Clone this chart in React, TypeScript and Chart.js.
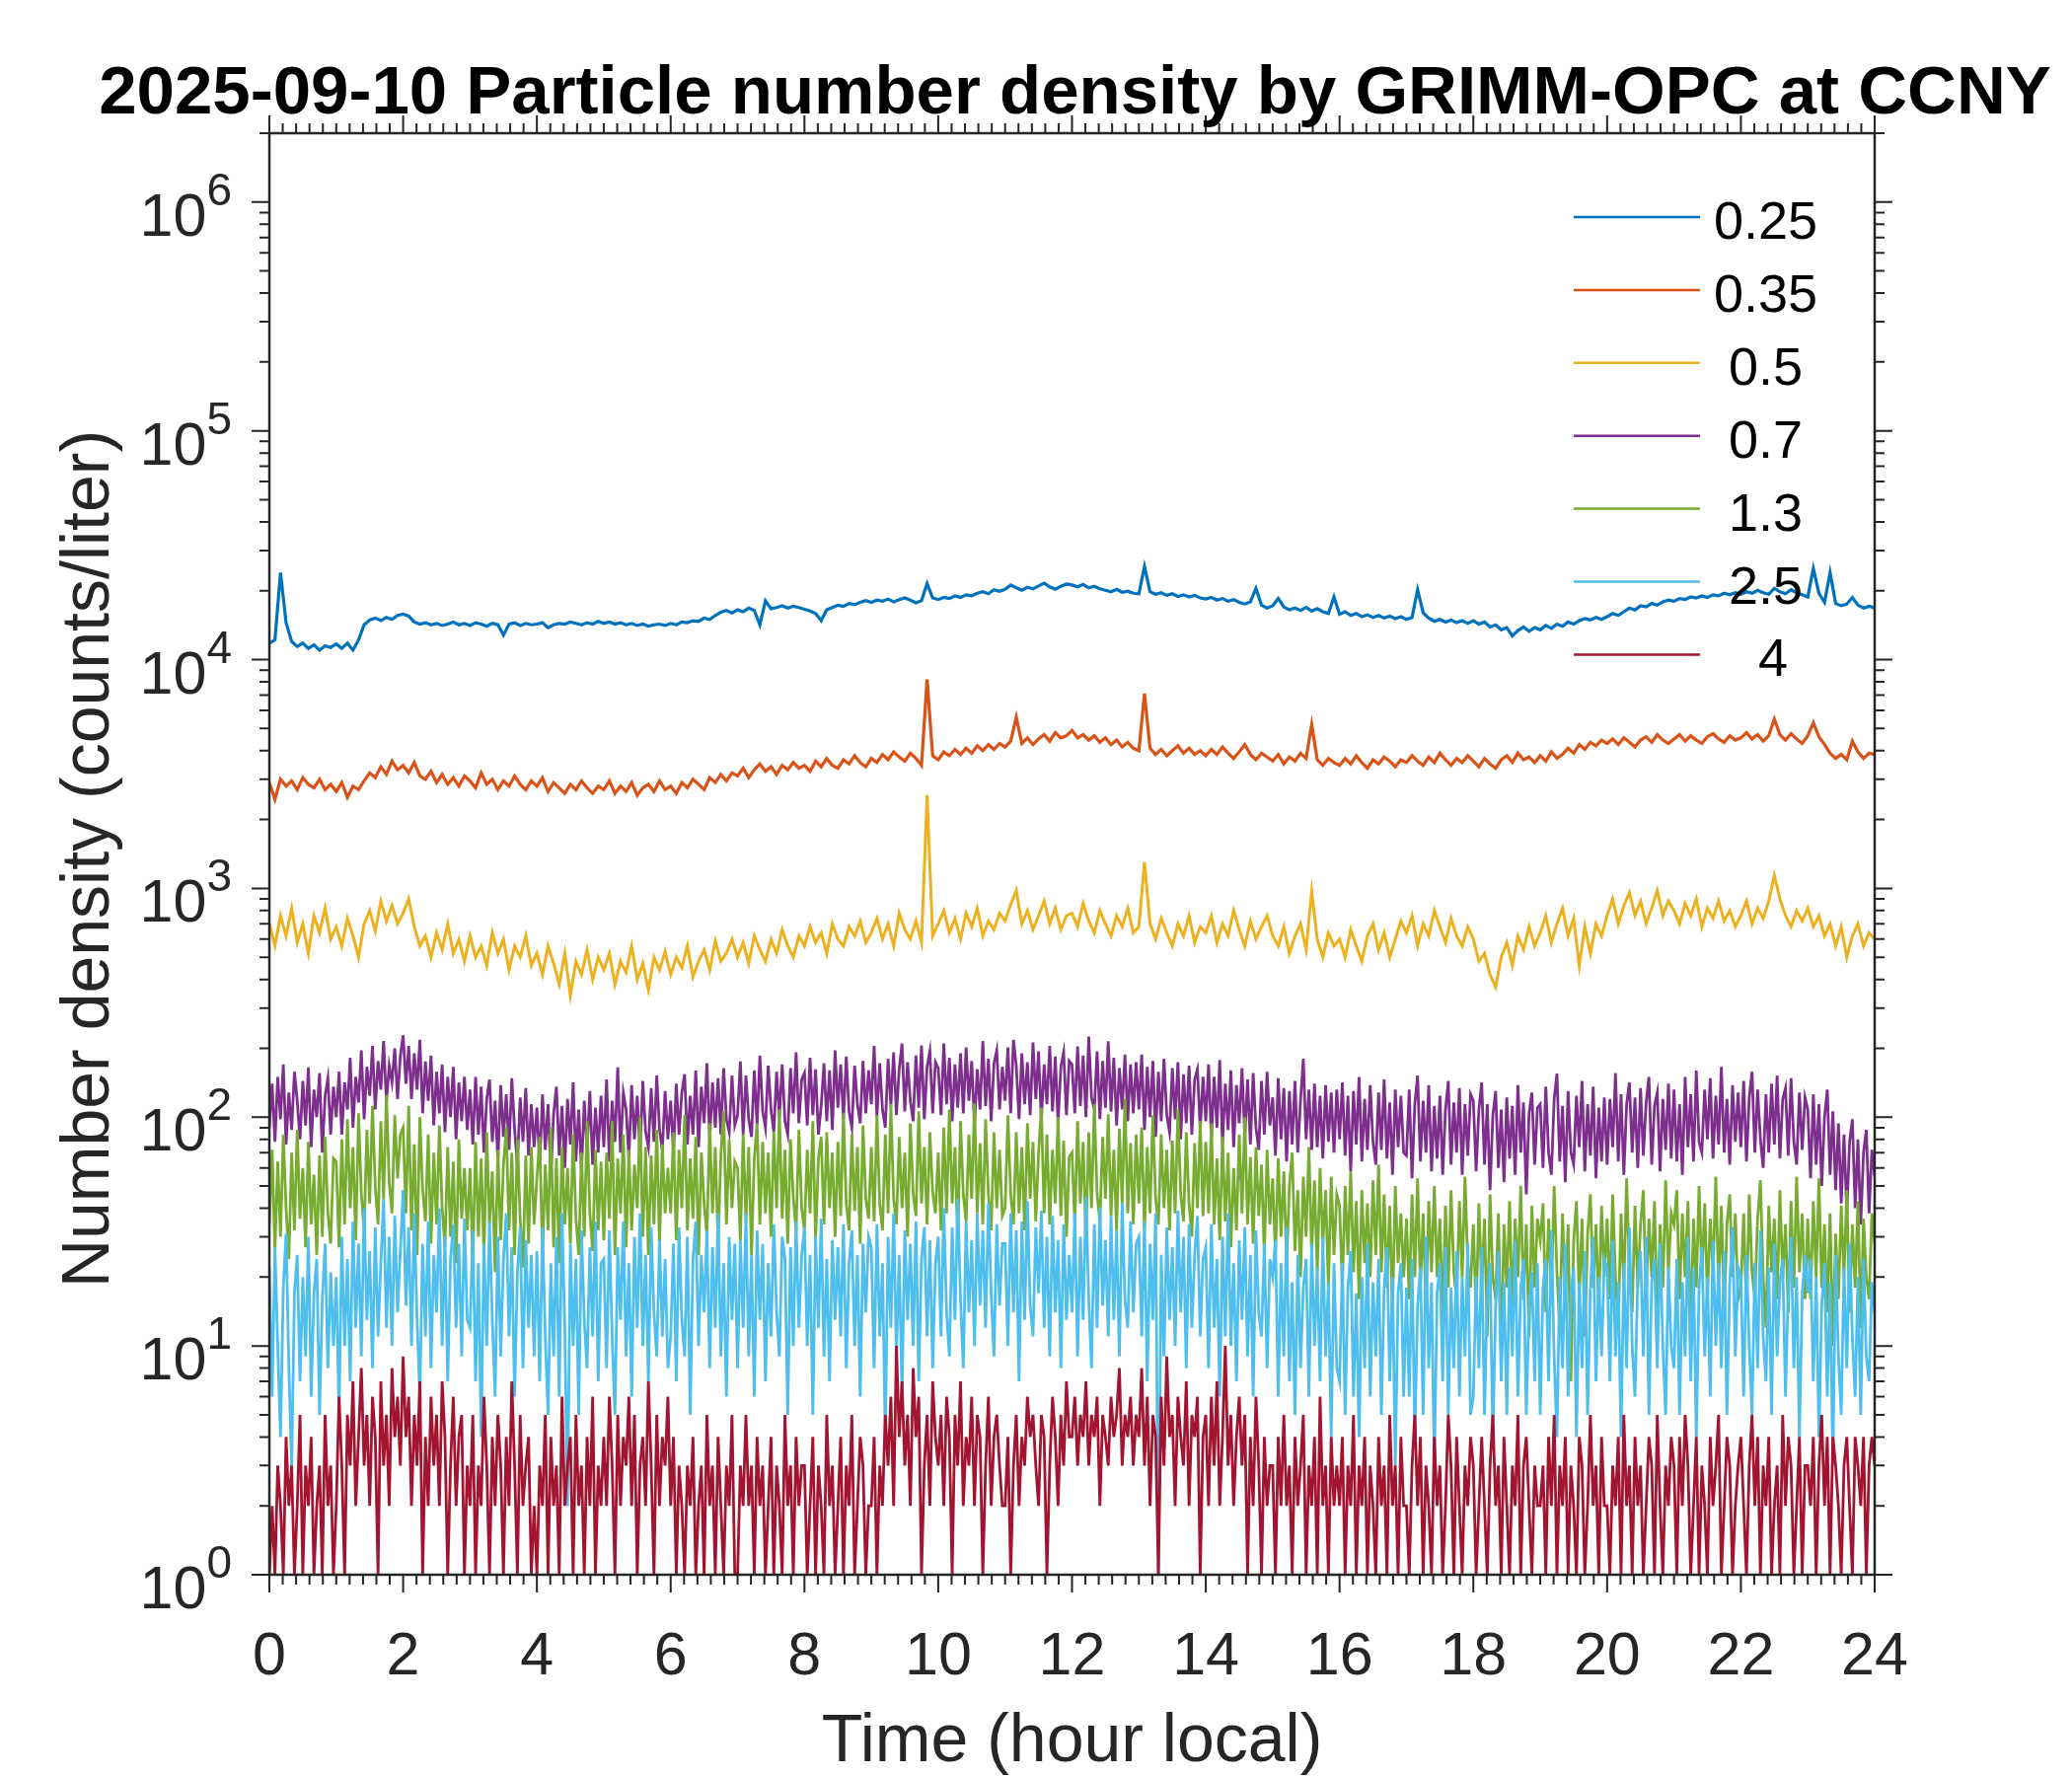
import React, { useEffect, useRef } from "react";
import { Chart, registerables } from "chart.js";

Chart.register(...registerables);

const TITLE = "2025-09-10 Particle number density by GRIMM-OPC at CCNY";
const X_LABEL = "Time (hour local)";
const Y_LABEL = "Number density (counts/liter)";
const SIZE_LABELS = ["0.25", "0.35", " 0.5", " 0.7", " 1.3", " 2.5", "   4"];
const COLORS = ["#0072BD", "#D95319", "#EDB120", "#7E2F8E", "#77AC30", "#4DBEEE", "#A2142F"];
const LINE_WIDTHS = [3.2, 3.2, 3, 2.8, 2.8, 2.8, 2.8];
const X_TICKS = [0, 2, 4, 6, 8, 10, 12, 14, 16, 18, 20, 22, 24];
const X_MINOR_STEP = 0.2;
const Y_EXPONENTS = [0, 1, 2, 3, 4, 5, 6];
const Y_MIN = 1;
const Y_MAX = 2e6;
// sampling interval of each channel's array, in minutes
const SAMPLE_MINUTES = [5, 5, 5, 2.5, 2.5, 2.5, 2.5];

// 0.25 um channel (5-min samples)
const N_025 = [
  11800, 12200, 24000, 14500, 12000, 11400, 11800, 11200, 11600, 11000, 11500, 11300,
  11700, 11200, 11800, 11000, 12200, 14200, 14900, 15200, 14800, 15300, 15000, 15600,
  15800, 15500, 14600, 14300, 14500, 14200, 14400, 14100, 14300, 14600, 14200, 14400,
  14100, 14500, 14300, 14000, 14400, 14200, 12800, 14300, 14500, 14100, 14400, 14200,
  14300, 14500, 13800, 14200, 14400, 14300, 14600, 14400, 14200, 14500, 14300, 14700,
  14400, 14600, 14300, 14500, 14200, 14400, 14100, 14300, 14000, 14200, 14300, 14100,
  14400, 14200, 14600, 14500, 14800, 14700, 15200, 15000, 15600, 16100, 16400, 16000,
  16500, 16200, 16800, 16400, 14200, 18100, 16700, 16900, 17200, 16800, 17100, 16900,
  16600, 16300, 15900, 14800, 16500, 16900, 17300, 17100, 17600, 17400, 17800, 18100,
  17800, 18200, 18000, 18400, 17900, 18300, 18600, 18200, 17700, 18100, 21500, 18600,
  18300, 18700, 18500, 19000, 18700, 19200, 19000, 19500, 19800, 19400, 20200, 19900,
  20300, 21200, 20600, 20100, 20700, 20400, 21000, 21600, 20800, 20300, 20900, 21400,
  21200, 20800, 21300, 20600, 20900, 20400, 20100, 19800, 20300, 19700, 19900, 19500,
  19400, 25500, 19800, 19300, 19600, 19100, 19400, 18900, 19200, 18800, 19100, 18600,
  18400, 18700, 18200, 18500, 18000, 18300, 17800, 17500, 17900, 20500, 17300, 16800,
  17200, 18500, 17000, 16500, 16800, 16400, 16900, 16300, 16700, 16200, 15900, 18800,
  15800, 16200, 15600, 15900, 15400, 15700, 15300, 15600, 15200, 15500, 15100, 15400,
  15000, 15300, 20200, 16000, 15200, 14700, 15000, 14600, 14900, 14500, 14800, 14400,
  14800, 14300, 14600, 13900, 14200, 13500, 13800, 12700, 13400, 13900, 13300, 13800,
  13500, 14100, 13700, 14300, 14000, 14600, 14300, 14800, 15100, 14900, 15300, 15000,
  15400, 15900, 15600, 16200, 16800, 16500, 17200, 17000, 17600, 17300, 17900, 18200,
  18000, 18500, 18300, 18800, 18600, 19000, 18700, 19200, 19000, 19500, 19200, 19600,
  19300, 19800, 19500, 20100, 19600, 19300, 20500, 19800, 19400, 20200, 19600, 19200,
  18800, 25000, 19500, 17800, 24000, 17600, 17200, 17500, 18700, 17300, 16800, 17100,
  16800,
];

// 0.35 um channel (5-min samples)
const N_035 = [
  2900, 2450, 3000, 2800, 2950, 2700, 3050, 2850, 2750, 3000, 2700, 2850,
  2650, 2900, 2500, 2800, 2700, 2950, 3200, 3050, 3400, 3150, 3600, 3300,
  3450, 3200, 3550, 3100, 3000, 3250, 2900, 3150, 2850, 3050, 2800, 3100,
  2950, 2750, 3200, 2850, 3000, 2700, 2950, 2800, 3100, 2850, 2700, 2950,
  2800, 3050, 2650, 2900, 2750, 2600, 2850, 2700, 2950, 2750, 2600, 2800,
  2700, 2950, 2600, 2800, 2650, 2900, 2550, 2750, 2850, 2650, 2950, 2700,
  2800, 2600, 2900, 2750, 3000, 2850, 2700, 3050, 2900, 3150, 2950, 3200,
  3100, 3350, 3050, 3300, 3500, 3250, 3400, 3150, 3450, 3300, 3550, 3350,
  3450, 3250, 3600, 3400, 3700, 3450, 3350, 3650, 3500, 3800, 3550, 3400,
  3700, 3550, 3850, 3650, 3950, 3750, 3600, 3900, 3700, 3450, 8200, 3800,
  3650, 3950, 3800, 4050, 3850, 4100, 3900, 4200, 4000, 4250, 4050, 4300,
  4150, 4400, 5600, 4300, 4550, 4250, 4500, 4700, 4400, 4800, 4550, 4650,
  4900, 4550, 4700, 4450, 4650, 4350, 4550, 4250, 4450, 4150, 4350, 4100,
  4000, 7100, 4100, 3850, 4050, 3800, 4000, 4200, 3900, 4100, 3850, 4000,
  3800, 4050, 3850, 4150, 3900, 3700, 3950, 4250, 3850, 3650, 3900, 3750,
  3600, 3850, 3500, 3750, 3600, 3900, 3700, 5200, 3650, 3450, 3700, 3550,
  3450, 3700, 3500, 3800, 3550, 3350, 3650, 3500, 3750, 3600, 3400, 3650,
  3550, 3800, 3600, 3450, 3750, 3550, 3900, 3650, 3450, 3700, 3550, 3800,
  3600, 3400, 3700, 3500, 3350, 3650, 3800, 3550, 3900, 3650, 3750, 3550,
  3800, 3600, 3950, 3700, 3850, 4100, 3900, 4250, 4050, 4350, 4200, 4450,
  4300, 4500, 4250, 4550, 4350, 4150, 4450, 4600, 4350, 4700, 4450, 4300,
  4500, 4700, 4400, 4650, 4450, 4300, 4600, 4750, 4500, 4350, 4650, 4450,
  4550, 4800, 4500, 4700, 4400, 4650, 5500, 4700, 4450, 4750, 4500, 4300,
  4650, 5300, 4600, 4250, 3900, 3700, 3850, 3650, 4400, 3950, 3700, 3900,
  3850,
];

// 0.5 um channel (5-min samples)
const N_05 = [
  700, 560, 760, 620, 820, 580, 700, 520, 760, 640, 820, 600,
  680, 560, 740, 620, 500, 700, 800, 650, 880, 720, 840, 700,
  780, 900, 680, 560, 620, 500, 640, 540, 700, 520, 600, 480,
  620, 500, 560, 460, 640, 520, 600, 440, 560, 500, 620, 460,
  520, 420, 560, 470, 380, 520, 340, 480, 420, 540, 400, 500,
  440, 520, 380, 480, 430, 560, 400, 470, 360, 500, 440, 530,
  420, 500, 450, 560, 410, 480, 540, 440, 590, 480, 520, 600,
  500, 580, 470, 620, 540, 480, 600, 520, 660, 560, 500, 620,
  560, 680, 580, 640, 520, 700, 600, 560, 680, 620, 720, 580,
  640, 740, 600, 700, 560, 780, 660, 600, 720, 580, 2560, 620,
  700, 800, 640, 740, 600, 780, 680, 820, 620, 720, 660, 780,
  720, 850, 980, 700, 800, 660, 760, 880, 700, 820, 660, 760,
  780, 680, 860, 720, 640, 800, 700, 620, 760, 680, 820, 640,
  680, 1300, 700, 600, 740, 640, 560, 700, 620, 760, 580, 680,
  640, 760, 580, 700, 620, 800, 660, 560, 720, 600, 680, 760,
  620, 560, 680, 520, 620, 700, 540, 970, 600, 500, 640, 560,
  600, 500, 660, 560, 480, 620, 700, 540, 640, 500, 600, 720,
  640, 760, 560, 700, 620, 800, 680, 580, 740, 620, 560, 680,
  600, 480, 520, 420, 370, 500, 580, 460, 620, 540, 680, 560,
  640, 760, 580, 700, 820, 620, 740, 460, 680, 520, 700, 620,
  760, 900, 700, 840, 960, 760, 880, 700, 820, 980, 760, 880,
  800, 700, 860, 760, 900, 680, 820, 740, 880, 720, 800, 680,
  760, 880, 700, 820, 740, 880, 1140, 900, 760, 680, 800, 720,
  820, 680, 760, 620, 700, 560, 680, 500, 620, 700, 560, 640,
  600,
];

// 0.7 um channel (2.5-min samples)
const N_07 = [
  90, 140, 78, 150, 98, 170, 76, 128, 88, 158, 118, 80, 144, 92, 165, 74, 132, 100, 156, 70, 124, 148, 84, 136,
  100, 158, 84, 142, 108, 182, 90, 150, 116, 196, 98, 166, 124, 205, 108, 176, 132, 215, 116, 168, 142, 200, 120, 185,
  228, 140, 205, 120, 190, 132, 218, 104, 175, 118, 186, 92, 158, 104, 170, 86, 150, 100, 166, 80, 142, 96, 150, 88,
  132, 76, 150, 84, 136, 70, 120, 146, 78, 118, 64, 138, 82, 126, 72, 148, 88, 62, 122, 78, 134, 68, 114, 74,
  110, 62, 126, 72, 114, 56, 104, 136, 68, 112, 60, 120, 76, 142, 64, 108, 58, 118, 72, 130, 62, 110, 70, 124,
  74, 146, 64, 118, 78, 165, 70, 128, 108, 66, 138, 80, 124, 70, 144, 86, 74, 134, 78, 152, 88, 72, 130, 80,
  118, 70, 140, 84, 128, 154, 76, 124, 84, 160, 74, 136, 94, 172, 80, 142, 90, 148, 84, 164, 98, 86, 152, 92,
  102, 175, 84, 152, 98, 82, 160, 92, 186, 106, 90, 168, 108, 86, 158, 100, 170, 96, 84, 164, 104, 192, 94, 146,
  156, 92, 182, 102, 162, 84, 112, 172, 96, 160, 88, 196, 110, 170, 98, 184, 106, 90, 168, 114, 94, 176, 104, 160,
  114, 205, 100, 172, 108, 90, 180, 112, 192, 102, 162, 210, 106, 174, 118, 96, 186, 110, 206, 98, 166, 194, 104, 174,
  164, 102, 210, 114, 182, 96, 170, 110, 190, 104, 202, 118, 176, 92, 162, 108, 215, 112, 180, 96, 172, 196, 108, 166,
  118, 202, 104, 218, 168, 98, 190, 114, 174, 102, 212, 120, 194, 96, 170, 114, 205, 106, 184, 94, 166, 192, 102, 176,
  170, 104, 204, 112, 186, 100, 225, 122, 108, 194, 98, 176, 110, 215, 106, 182, 92, 164, 108, 188, 96, 170, 104, 174,
  108, 188, 88, 166, 100, 176, 82, 158, 96, 180, 102, 86, 164, 98, 174, 80, 154, 94, 168, 84, 146, 162, 88, 150,
  96, 170, 80, 150, 90, 178, 76, 140, 88, 160, 74, 138, 94, 164, 82, 146, 76, 156, 90, 72, 144, 84, 158, 92,
  122, 68, 148, 80, 134, 64, 130, 76, 144, 70, 118, 180, 80, 132, 72, 140, 74, 124, 66, 138, 78, 128, 70, 132,
  80, 142, 68, 124, 58, 130, 76, 150, 64, 120, 72, 138, 78, 62, 128, 72, 146, 66, 116, 56, 132, 74, 124, 70,
  68, 132, 54, 114, 152, 64, 118, 70, 138, 58, 112, 66, 124, 56, 108, 144, 62, 116, 70, 134, 56, 114, 68, 126,
  118, 58, 108, 142, 62, 114, 48, 102, 130, 60, 108, 52, 122, 66, 112, 56, 138, 70, 116, 46, 104, 128, 62, 110,
  114, 60, 136, 70, 56, 120, 155, 64, 112, 52, 130, 70, 62, 124, 74, 144, 58, 114, 68, 136, 54, 110, 64, 122,
  62, 120, 74, 156, 64, 126, 56, 114, 142, 70, 122, 60, 134, 68, 116, 150, 62, 112, 128, 58, 120, 72, 140, 66,
  132, 64, 114, 56, 150, 74, 126, 64, 160, 78, 70, 132, 80, 148, 66, 124, 76, 166, 70, 120, 62, 138, 78, 128,
  74, 144, 64, 122, 158, 70, 132, 80, 60, 126, 70, 140, 76, 152, 66, 120, 134, 68, 148, 78, 62, 128, 72, 122,
  108, 54, 126, 62, 114, 50, 100, 132, 56, 106, 48, 94, 42, 84, 38, 78, 98, 40, 80, 34, 70, 88, 38, 72,
  55,
];

// 1.3 um channel (2.5-min samples)
const N_13 = [
  34, 72, 26, 64, 30, 84, 40, 24, 70, 32, 88, 36, 60, 27, 78, 34, 56, 25, 68, 30, 82, 38, 28, 66,
  64, 27, 80, 34, 98, 40, 74, 29, 104, 46, 32, 88, 42, 112, 50, 34, 96, 44, 125, 52, 38, 102, 54, 84,
  90, 38, 112, 32, 76, 25, 100, 48, 35, 84, 28, 70, 34, 92, 40, 27, 74, 30, 64, 23, 80, 36, 60, 32,
  60, 23, 78, 30, 66, 25, 86, 34, 58, 21, 72, 29, 62, 90, 32, 70, 25, 80, 36, 22, 68, 28, 74, 34,
  54, 82, 25, 62, 32, 90, 27, 66, 23, 74, 34, 60, 28, 84, 36, 25, 70, 30, 96, 38, 26, 72, 32, 64,
  29, 70, 36, 96, 25, 66, 38, 84, 27, 72, 32, 62, 40, 100, 30, 74, 25, 68, 34, 88, 28, 76, 38, 60,
  38, 86, 29, 72, 40, 102, 32, 66, 36, 82, 25, 70, 42, 30, 94, 38, 74, 28, 68, 106, 34, 80, 40, 64,
  60, 29, 84, 35, 74, 25, 66, 94, 34, 78, 38, 70, 30, 86, 40, 108, 36, 72, 28, 80, 44, 32, 88, 40,
  32, 72, 38, 96, 29, 66, 82, 34, 86, 40, 70, 30, 78, 37, 104, 42, 32, 84, 39, 74, 28, 92, 44, 36,
  74, 35, 102, 42, 32, 84, 38, 114, 44, 34, 82, 40, 70, 30, 94, 46, 37, 106, 42, 74, 34, 86, 47, 38,
  70, 32, 90, 38, 108, 42, 74, 29, 96, 46, 35, 84, 44, 115, 38, 77, 34, 98, 46, 32, 86, 40, 72, 37,
  40, 102, 46, 34, 86, 38, 74, 32, 94, 44, 78, 35, 70, 110, 38, 84, 34, 72, 42, 100, 37, 79, 30, 67,
  70, 34, 96, 42, 78, 29, 86, 40, 114, 46, 35, 82, 44, 103, 37, 72, 32, 89, 42, 120, 38, 77, 34, 84,
  42, 90, 32, 74, 38, 102, 44, 34, 84, 40, 72, 32, 79, 38, 108, 46, 35, 86, 42, 30, 77, 40, 96, 37,
  78, 38, 94, 34, 66, 29, 82, 35, 70, 27, 60, 32, 84, 38, 100, 34, 67, 28, 74, 37, 62, 25, 72, 34,
  54, 25, 66, 30, 58, 23, 50, 70, 26, 48, 20, 55, 30, 74, 25, 53, 21, 60, 28, 48, 18, 55, 25, 46,
  41, 18, 50, 25, 58, 21, 43, 16, 48, 23, 42, 20, 53, 25, 62, 21, 46, 18, 41, 14, 50, 23, 38, 20,
  36, 16, 46, 20, 54, 18, 38, 14, 43, 21, 50, 20, 36, 13, 41, 18, 48, 21, 16, 43, 20, 55, 23, 18,
  34, 14, 42, 18, 36, 11, 46, 20, 16, 38, 9, 34, 18, 43, 14, 36, 20, 50, 16, 34, 11, 41, 18, 36,
  29, 42, 14, 36, 18, 50, 21, 12, 38, 16, 34, 7, 29, 43, 16, 36, 11, 31, 46, 18, 34, 14, 41, 20,
  36, 16, 46, 20, 12, 38, 18, 54, 21, 14, 41, 18, 34, 48, 16, 36, 20, 43, 12, 34, 18, 53, 21, 38,
  34, 48, 16, 38, 20, 43, 11, 36, 18, 50, 20, 42, 16, 36, 21, 55, 18, 41, 14, 34, 46, 20, 38, 16,
  18, 38, 14, 46, 21, 16, 36, 53, 20, 12, 41, 21, 36, 16, 48, 20, 34, 14, 43, 18, 55, 21, 38, 16,
  36, 16, 43, 20, 54, 18, 34, 14, 38, 10, 31, 16, 41, 20, 48, 14, 34, 18, 43, 12, 36, 20, 16, 38,
  28,
];

// 2.5 um channel (2.5-min samples)
const N_25 = [
  22, 6, 27, 10, 4, 18, 31, 8, 3, 17, 25, 7, 20, 9, 30, 6, 17, 24, 5, 16, 28, 8, 21, 10,
  20, 5, 30, 10, 24, 7, 35, 12, 28, 9, 40, 13, 26, 8, 33, 11, 23, 44, 12, 30, 10, 37, 14, 26,
  48, 15, 33, 10, 38, 13, 6, 28, 11, 35, 8, 25, 14, 40, 10, 30, 7, 24, 34, 12, 28, 9, 36, 13,
  12, 32, 7, 23, 4, 28, 10, 35, 13, 6, 30, 9, 24, 38, 11, 27, 6, 21, 33, 8, 29, 12, 25, 9,
  26, 7, 33, 11, 5, 23, 9, 30, 6, 38, 12, 2, 28, 10, 24, 5, 32, 13, 8, 27, 11, 35, 7, 23,
  24, 8, 32, 11, 5, 27, 13, 35, 9, 23, 6, 30, 12, 38, 10, 25, 7, 33, 14, 9, 29, 11, 24, 8,
  11, 28, 7, 33, 13, 9, 30, 5, 24, 35, 10, 25, 14, 32, 8, 27, 12, 38, 9, 23, 6, 30, 13, 28,
  8, 29, 12, 38, 9, 25, 6, 32, 13, 28, 7, 23, 11, 34, 14, 9, 30, 24, 5, 27, 10, 35, 12, 25,
  33, 10, 25, 5, 30, 12, 36, 9, 24, 7, 29, 13, 27, 11, 34, 8, 23, 32, 10, 25, 6, 28, 14, 30,
  27, 8, 34, 11, 23, 4, 30, 12, 38, 9, 25, 6, 32, 13, 28, 10, 35, 7, 24, 33, 11, 29, 8, 23,
  30, 11, 40, 14, 9, 33, 13, 44, 16, 8, 35, 14, 29, 10, 38, 15, 32, 12, 42, 17, 9, 34, 15, 28,
  28, 10, 38, 14, 32, 7, 35, 13, 43, 15, 11, 33, 17, 39, 12, 30, 9, 37, 14, 29, 8, 34, 13, 25,
  14, 38, 9, 30, 13, 45, 16, 8, 34, 12, 40, 15, 29, 11, 37, 13, 32, 9, 42, 16, 12, 35, 14, 28,
  30, 11, 35, 7, 28, 13, 38, 1, 25, 9, 33, 13, 27, 10, 39, 14, 30, 8, 34, 12, 25, 37, 11, 24,
  27, 8, 34, 12, 24, 6, 30, 11, 38, 10, 23, 7, 29, 13, 33, 9, 25, 6, 32, 14, 11, 28, 8, 24,
  20, 29, 6, 23, 9, 33, 7, 19, 5, 25, 8, 18, 24, 6, 28, 10, 22, 7, 30, 9, 19, 4, 23, 8,
  7, 23, 5, 18, 26, 6, 17, 4, 20, 8, 28, 6, 19, 9, 24, 5, 18, 27, 7, 20, 3, 17, 23, 6,
  18, 6, 24, 4, 15, 22, 5, 30, 8, 19, 3, 17, 23, 7, 27, 5, 18, 8, 26, 6, 20, 9, 28, 5,
  6, 20, 8, 27, 5, 17, 23, 4, 15, 26, 7, 19, 5, 22, 9, 29, 6, 18, 24, 5, 15, 21, 7, 23,
  5, 18, 24, 7, 32, 9, 4, 20, 8, 28, 6, 17, 22, 4, 19, 8, 26, 5, 18, 30, 7, 20, 9, 24,
  22, 7, 29, 9, 19, 4, 23, 8, 33, 10, 6, 20, 26, 9, 30, 5, 19, 24, 8, 28, 10, 5, 22, 10,
  8, 24, 5, 19, 9, 30, 7, 22, 4, 18, 27, 9, 20, 6, 29, 10, 23, 8, 26, 5, 19, 33, 9, 22,
  20, 6, 25, 10, 5, 23, 8, 32, 11, 7, 22, 5, 28, 9, 19, 24, 6, 18, 30, 8, 20, 4, 17, 25,
  17, 24, 7, 20, 4, 15, 23, 6, 19, 3, 25, 9, 5, 22, 8, 28, 11, 6, 20, 5, 24, 9, 7, 19,
  14,
];

// 4 um channel (2.5-min samples)
const N_4 = [
  1, 2, 1, 3, 2, 1, 4, 2, 3, 1, 2, 5, 1, 3, 2, 4, 1, 2, 3, 1, 5, 2, 3, 1,
  2, 6, 3, 1, 5, 3, 7, 2, 4, 8, 3, 5, 2, 6, 4, 1, 7, 3, 5, 2, 8, 4, 6, 3,
  9, 4, 6, 2, 5, 3, 7, 1, 4, 2, 6, 3, 5, 2, 7, 4, 1, 3, 6, 2, 4, 5, 1, 3,
  2, 5, 1, 3, 2, 6, 3, 1, 4, 2, 5, 3, 1, 4, 2, 7, 3, 1, 5, 2, 3, 4, 1, 2,
  1, 3, 2, 5, 1, 4, 2, 3, 1, 6, 2, 3, 4, 1, 5, 2, 3, 1, 4, 2, 6, 1, 3, 2,
  4, 2, 6, 3, 1, 5, 2, 4, 3, 6, 2, 5, 1, 3, 4, 2, 7, 3, 1, 5, 2, 4, 3, 6,
  2, 4, 1, 3, 2, 1, 3, 2, 4, 1, 2, 3, 1, 5, 2, 3, 1, 4, 2, 1, 3, 2, 5, 1,
  1, 3, 2, 5, 2, 3, 1, 4, 2, 3, 1, 2, 4, 1, 3, 2, 1, 5, 2, 3, 1, 4, 2, 3,
  3, 1, 2, 4, 1, 3, 2, 1, 5, 2, 3, 1, 2, 4, 1, 3, 2, 5, 1, 2, 4, 3, 1, 2,
  2, 4, 1, 3, 2, 5, 3, 6, 2, 10, 4, 7, 3, 5, 2, 8, 4, 6, 1, 3, 5, 2, 7, 4,
  3, 5, 2, 6, 4, 1, 5, 3, 7, 2, 4, 3, 6, 2, 5, 4, 1, 3, 6, 2, 4, 5, 3, 2,
  2, 4, 1, 3, 5, 2, 4, 3, 6, 4, 5, 3, 2, 5, 4, 1, 3, 6, 4, 2, 5, 3, 7, 4,
  4, 6, 3, 5, 4, 7, 3, 5, 4, 6, 2, 5, 4, 3, 6, 4, 5, 8, 3, 5, 4, 6, 3, 5,
  4, 8, 3, 6, 2, 5, 4, 1, 6, 3, 9, 4, 5, 2, 6, 4, 3, 7, 2, 5, 4, 6, 1, 4,
  5, 2, 6, 3, 7, 2, 4, 10, 3, 5, 2, 4, 6, 3, 5, 1, 4, 2, 6, 3, 1, 4, 2, 3,
  3, 1, 4, 2, 5, 2, 3, 1, 4, 2, 3, 5, 1, 3, 2, 4, 1, 6, 2, 3, 1, 4, 2, 3,
  2, 4, 1, 3, 2, 5, 1, 3, 2, 4, 1, 3, 2, 1, 4, 2, 3, 1, 5, 2, 3, 1, 4, 2,
  2, 1, 3, 5, 2, 4, 1, 3, 2, 1, 4, 2, 3, 1, 2, 5, 3, 1, 4, 2, 1, 3, 2, 4,
  3, 1, 2, 4, 2, 1, 3, 5, 2, 3, 1, 4, 2, 1, 3, 2, 5, 1, 3, 4, 2, 1, 3, 2,
  2, 3, 1, 4, 2, 5, 1, 3, 2, 4, 1, 3, 2, 1, 4, 3, 1, 2, 5, 2, 3, 1, 4, 2,
  2, 1, 3, 2, 4, 1, 5, 2, 3, 1, 4, 2, 3, 1, 2, 4, 3, 1, 5, 2, 1, 3, 2, 4,
  3, 1, 4, 2, 5, 3, 1, 2, 4, 1, 3, 2, 1, 4, 2, 3, 5, 1, 2, 4, 3, 1, 2, 3,
  4, 2, 1, 3, 5, 2, 4, 1, 3, 2, 4, 1, 2, 3, 1, 5, 2, 4, 3, 1, 2, 4, 1, 3,
  3, 2, 4, 1, 3, 5, 2, 4, 1, 4, 3, 2, 1, 3, 4, 2, 1, 4, 3, 2, 4, 1, 3, 4,
  3,
];

const SERIES = [N_025, N_035, N_05, N_07, N_13, N_25, N_4];

const FONT = '"Liberation Sans", Arial, Helvetica, sans-serif';
const AXIS_COLOR = "#262626";

const decorPlugin = {
  id: "matlabDecor",
  afterDraw(chart: any) {
    const { ctx, chartArea } = chart;
    const { left, right, top, bottom } = chartArea;
    const xs = chart.scales.x;
    const ys = chart.scales.y;
    ctx.save();

    // axes box
    ctx.strokeStyle = AXIS_COLOR;
    ctx.lineWidth = 2.5;
    ctx.lineCap = "butt";
    ctx.strokeRect(left, top, right - left, bottom - top);

    // x ticks (top and bottom, outward)
    ctx.lineWidth = 2;
    ctx.beginPath();
    const nMinor = Math.round((X_TICKS[X_TICKS.length - 1] - X_TICKS[0]) / X_MINOR_STEP);
    for (let k = 0; k <= nMinor; k++) {
      const t = X_TICKS[0] + k * X_MINOR_STEP;
      const major = X_TICKS.some((v) => Math.abs(v - t) < 1e-6);
      const len = major ? 18 : 10;
      const px = xs.getPixelForValue(t);
      ctx.moveTo(px, bottom);
      ctx.lineTo(px, bottom + len);
      ctx.moveTo(px, top);
      ctx.lineTo(px, top - len);
    }
    // y ticks (left and right, outward)
    for (const e of Y_EXPONENTS) {
      for (let m = 1; m <= 9; m++) {
        const v = m * Math.pow(10, e);
        if (v > Y_MAX * 1.0001) break;
        const py = ys.getPixelForValue(v);
        const len = m === 1 ? 18 : 10;
        ctx.moveTo(left, py);
        ctx.lineTo(left - len, py);
        ctx.moveTo(right, py);
        ctx.lineTo(right + len, py);
      }
    }
    ctx.stroke();

    // x tick labels
    ctx.fillStyle = AXIS_COLOR;
    ctx.font = `61px ${FONT}`;
    ctx.textAlign = "center";
    ctx.textBaseline = "alphabetic";
    for (const t of X_TICKS) {
      ctx.fillText(String(t), xs.getPixelForValue(t), bottom + 101);
    }

    // y tick labels 10^n
    for (const e of Y_EXPONENTS) {
      const py = ys.getPixelForValue(Math.pow(10, e));
      const xr = left - 38;
      ctx.font = `46px ${FONT}`;
      ctx.textAlign = "right";
      const supW = ctx.measureText(String(e)).width;
      ctx.fillText(String(e), xr, py + 3);
      ctx.font = `61px ${FONT}`;
      ctx.fillText("10", xr - supW, py + 34);
    }

    // axis labels
    ctx.font = `68px ${FONT}`;
    ctx.textAlign = "center";
    ctx.fillText(X_LABEL, (left + right) / 2, 1785);
    ctx.save();
    ctx.translate(110, (top + bottom) / 2 + 5);
    ctx.rotate(-Math.PI / 2);
    ctx.fillText(Y_LABEL, 0, 0);
    ctx.restore();

    // title
    ctx.fillStyle = "#000000";
    ctx.font = `bold 69px ${FONT}`;
    ctx.textAlign = "center";
    ctx.fillText(TITLE, (left + right) / 2 + 3, 115);

    // legend (no box)
    const rowY0 = 220;
    const rowDy = 73.9;
    ctx.font = `54px ${FONT}`;
    ctx.textAlign = "left";
    SIZE_LABELS.forEach((lab, i) => {
      const y = rowY0 + i * rowDy;
      ctx.strokeStyle = COLORS[i];
      ctx.lineWidth = 2.5;
      ctx.beginPath();
      ctx.moveTo(1595, y);
      ctx.lineTo(1723, y);
      ctx.stroke();
      ctx.fillStyle = "#000000";
      ctx.fillText(lab, 1737, y + 22);
    });

    ctx.restore();
  },
};

export default function App() {
  const ref = useRef<HTMLCanvasElement | null>(null);

  useEffect(() => {
    document.body.style.margin = "0";
    const canvas = ref.current;
    if (!canvas) return;
    const datasets = SERIES.map((vals, i) => ({
      label: SIZE_LABELS[i].trim(),
      data: vals.map((v, j) => ({ x: (j * SAMPLE_MINUTES[i]) / 60, y: v })),
      borderColor: COLORS[i],
      backgroundColor: COLORS[i],
      borderWidth: LINE_WIDTHS[i],
      pointRadius: 0,
      tension: 0,
      fill: false,
      order: SERIES.length - 1 - i,
    }));
    const chart = new Chart(canvas, {
      type: "line",
      data: { datasets },
      options: {
        animation: false,
        responsive: false,
        devicePixelRatio: 1,
        layout: { padding: { left: 273, right: 200, top: 135, bottom: 204 } },
        plugins: { legend: { display: false }, tooltip: { enabled: false }, title: { display: false } },
        scales: {
          x: { type: "linear", min: 0, max: 24, display: false },
          y: { type: "logarithmic", min: Y_MIN, max: Y_MAX, display: false },
        },
      },
      plugins: [decorPlugin],
    });
    return () => chart.destroy();
  }, []);

  return (
    <div style={{ width: 2100, height: 1800, background: "#ffffff" }}>
      <canvas ref={ref} width={2100} height={1800} style={{ display: "block" }} />
    </div>
  );
}
